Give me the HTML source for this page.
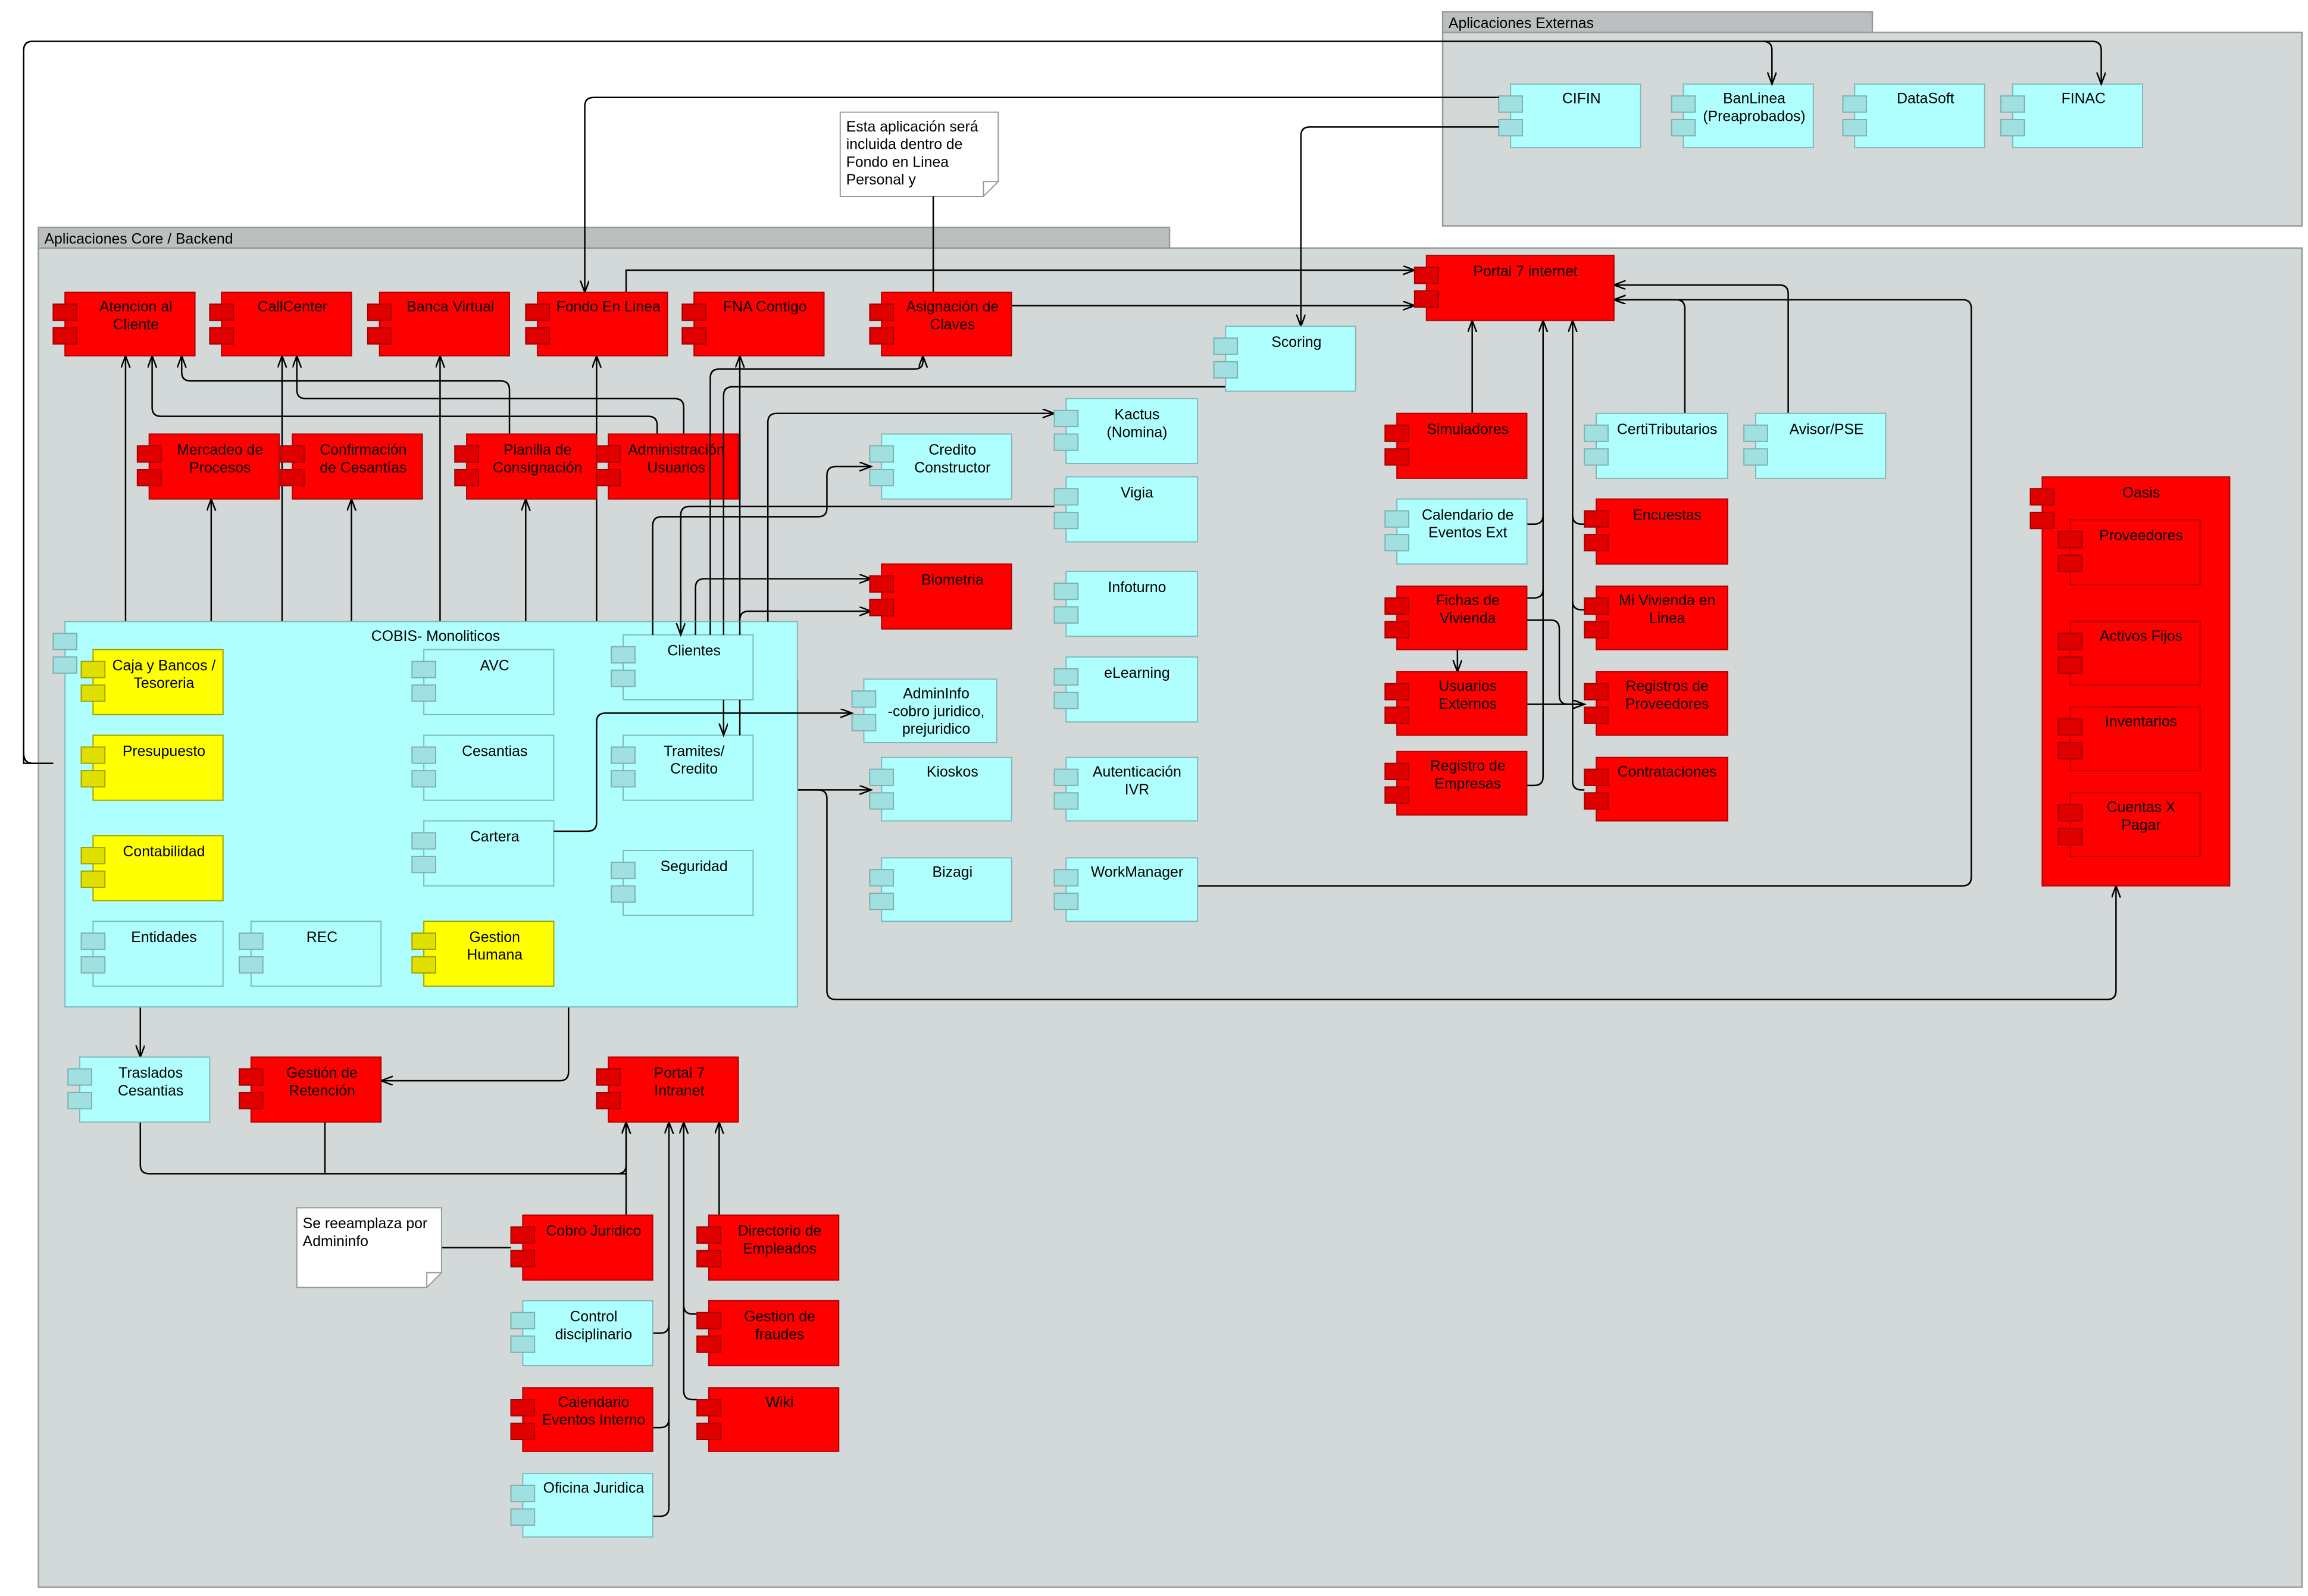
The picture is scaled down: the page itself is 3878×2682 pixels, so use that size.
<!DOCTYPE html>
<html><head><meta charset="utf-8"><style>
html,body{margin:0;padding:0;background:#fff}
svg{display:block}
text{font-family:"Liberation Sans Narrow","Liberation Sans",sans-serif;font-size:10px;fill:#000;text-anchor:middle}
.r{fill:#f00;stroke:#b00000;stroke-width:.8}
.rp{fill:#e00000;stroke:#a00000;stroke-width:.8}
.c{fill:#b0ffff;stroke:#80b8b8;stroke-width:.8}
.cp{fill:#a0e0e0;stroke:#7fb0b0;stroke-width:.8}
.y{fill:#ff0;stroke:#a0a000;stroke-width:.8}
.yp{fill:#e0e000;stroke:#a0a000;stroke-width:.8}
.fr{fill:#d3d8d9;stroke:#999;stroke-width:1}
.tab{fill:#bcbfc0;stroke:#999;stroke-width:1}
.l{fill:none;stroke:#000;stroke-width:1}
.lt{fill:none;stroke:#000;stroke-width:1;marker-end:url(#a)}
.note{fill:#fff;stroke:#999;stroke-width:.8}
.lt2{text-anchor:start}
</style></head><body>
<svg width="3878" height="2682" viewBox="0 0 1563 1081" xmlns="http://www.w3.org/2000/svg">
<defs><marker id="a" markerWidth="10" markerHeight="10" refX="8" refY="3" orient="auto" markerUnits="userSpaceOnUse"><path d="M0,0 L8,3 L0,6" fill="none" stroke="#000" stroke-width="1"/></marker></defs>

<rect class="tab" x="977" y="8" width="291" height="14"/>
<rect class="fr" x="977" y="22" width="582" height="131"/>
<text class="lt2" x="981" y="19">Aplicaciones Externas</text>
<rect class="tab" x="26" y="154" width="766" height="14"/>
<rect class="fr" x="26" y="168" width="1533" height="907"/>
<text class="lt2" x="30" y="165">Aplicaciones Core / Backend</text>

<g><rect class="c" x="1023" y="57" width="88" height="43"/><rect class="cp" x="1015" y="65" width="16" height="11"/><rect class="cp" x="1015" y="81" width="16" height="11"/><text x="1071" y="70">CIFIN</text></g>
<g><rect class="c" x="1140" y="57" width="88" height="43"/><rect class="cp" x="1132" y="65" width="16" height="11"/><rect class="cp" x="1132" y="81" width="16" height="11"/><text x="1188" y="70">BanLinea</text><text x="1188" y="82">(Preaprobados)</text></g>
<g><rect class="c" x="1256" y="57" width="88" height="43"/><rect class="cp" x="1248" y="65" width="16" height="11"/><rect class="cp" x="1248" y="81" width="16" height="11"/><text x="1304" y="70">DataSoft</text></g>
<g><rect class="c" x="1363" y="57" width="88" height="43"/><rect class="cp" x="1355" y="65" width="16" height="11"/><rect class="cp" x="1355" y="81" width="16" height="11"/><text x="1411" y="70">FINAC</text></g>

<path class="note" d="M569,76 H676 V123 L666,133 H569 Z"/>
<path class="l" d="M666,133 V123 H676" style="stroke:#999;stroke-width:.8"/>
<text class="lt2" x="573" y="89">Esta aplicación será</text>
<text class="lt2" x="573" y="101">incluida dentro de</text>
<text class="lt2" x="573" y="113">Fondo en Linea</text>
<text class="lt2" x="573" y="125">Personal y</text>
<path class="l" d="M632,133 V198"/>

<path class="l" d="M36,517 H22 Q16,517 16,510 V34 Q16,28 22,28 H1417 Q1423,28 1423,34"/>
<path class="lt" d="M1423,34 V57"/>
<path class="lt" d="M1194,28 Q1200,28 1200,34 V57"/>
<path class="lt" d="M1015,66 H402 Q396,66 396,72 V198"/>
<path class="lt" d="M1015,86 H887 Q881,86 881,92 V221"/>
<path class="lt" d="M424,198 V183 H958"/>
<path class="lt" d="M685,207 H958"/>
<path class="lt" d="M85,421 V241"/>
<path class="lt" d="M143,421 V338"/>
<path class="lt" d="M191,421 V241"/>
<path class="lt" d="M238,421 V338"/>
<path class="lt" d="M298,421 V241"/>
<path class="lt" d="M356,421 V338"/>
<path class="lt" d="M404,421 V241"/>
<path class="lt" d="M345,294 V264 Q345,258 339,258 H129 Q123,258 123,252 V241"/>
<path class="lt" d="M463,294 V276 Q463,270 457,270 H207 Q201,270 201,264 V241"/>
<path class="lt" d="M445,294 V288 Q445,282 439,282 H109 Q103,282 103,276 V241"/>
<path class="lt" d="M714,343 H467 Q461,343 461,349 V430"/>
<path class="lt" d="M442,430 V356 Q442,350 448,350 H554 Q560,350 560,344 V322 Q560,316 566,316 H590"/>
<path class="lt" d="M520,421 V286 Q520,280 526,280 H714"/>
<path class="lt" d="M471,430 V398 Q471,392 477,392 H590"/>
<path class="lt" d="M501,498 V241"/>
<path class="lt" d="M501,420 Q501,414 507,414 H590"/>
<path class="lt" d="M481,430 V256 Q481,250 487,250 H619 Q625,250 625,245 L625,241"/>
<path class="lt" d="M830,262 H496 Q490,262 490,268 V498"/>
<path class="lt" d="M510,455 H534 Q540,455 540,461 V535 H590"/>
<path class="lt" d="M540,535 H554 Q560,535 560,541 V671 Q560,677 566,677 H1427 Q1433,677 1433,671 V600"/>
<path class="lt" d="M414,468 H391 Q385,468 385,474 V726 Q385,732 379,732 H258"/>
<path class="lt" d="M95,682 V716"/>
<path class="l" d="M95,760 V789 Q95,795 101,795 H424"/>
<path class="l" d="M220,760 V795"/>
<path class="lt" d="M418,795 Q424,795 424,789 V760"/>
<path class="lt" d="M424,823 V760"/>
<path class="lt" d="M487,823 V760"/>
<path class="l" d="M442,903 H447 Q453,903 453,897"/>
<path class="l" d="M442,967 H447 Q453,967 453,961"/>
<path class="l" d="M442,1027 H447 Q453,1027 453,1021"/>
<path class="lt" d="M453,1021 V760"/>
<path class="l" d="M472,890 H469 Q463,890 463,884"/>
<path class="l" d="M472,948 H469 Q463,948 463,942"/>
<path class="lt" d="M463,942 V760"/>
<path class="l" d="M299,845 H346"/>
<path class="lt" d="M997,280 V217"/>
<path class="l" d="M1034,405 H1039 Q1045,405 1045,399"/>
<path class="l" d="M1034,355 H1039 Q1045,355 1045,349"/>
<path class="l" d="M1034,532 H1039 Q1045,532 1045,526"/>
<path class="lt" d="M1045,526 V217"/>
<path class="l" d="M1073,355 H1071 Q1065,355 1065,349"/>
<path class="l" d="M1073,413 H1071 Q1065,413 1065,407"/>
<path class="l" d="M1073,535 H1071 Q1065,535 1065,529"/>
<path class="lt" d="M1065,529 V217"/>
<path class="lt" d="M1141,280 V209 Q1141,203 1135,203 H1093"/>
<path class="lt" d="M1211,280 V199 Q1211,193 1205,193 H1093"/>
<path class="lt" d="M811,600 H1329 Q1335,600 1335,594 V209 Q1335,203 1329,203 H1093"/>
<path class="lt" d="M987,440 V455"/>
<path class="lt" d="M1034,477 H1073"/>
<path class="lt" d="M1034,420 H1050 Q1056,420 1056,426 V471 Q1056,477 1062,477 H1073"/>

<g><rect class="r" x="44" y="198" width="88" height="43"/><rect class="rp" x="36" y="206" width="16" height="11"/><rect class="rp" x="36" y="222" width="16" height="11"/><text x="92" y="211">Atencion al</text><text x="92" y="223">Cliente</text></g>
<g><rect class="r" x="150" y="198" width="88" height="43"/><rect class="rp" x="142" y="206" width="16" height="11"/><rect class="rp" x="142" y="222" width="16" height="11"/><text x="198" y="211">CallCenter</text></g>
<g><rect class="r" x="257" y="198" width="88" height="43"/><rect class="rp" x="249" y="206" width="16" height="11"/><rect class="rp" x="249" y="222" width="16" height="11"/><text x="305" y="211">Banca Virtual</text></g>
<g><rect class="r" x="364" y="198" width="88" height="43"/><rect class="rp" x="356" y="206" width="16" height="11"/><rect class="rp" x="356" y="222" width="16" height="11"/><text x="412" y="211">Fondo En Linea</text></g>
<g><rect class="r" x="470" y="198" width="88" height="43"/><rect class="rp" x="462" y="206" width="16" height="11"/><rect class="rp" x="462" y="222" width="16" height="11"/><text x="518" y="211">FNA Contigo</text></g>
<g><rect class="r" x="597" y="198" width="88" height="43"/><rect class="rp" x="589" y="206" width="16" height="11"/><rect class="rp" x="589" y="222" width="16" height="11"/><text x="645" y="211">Asignación de</text><text x="645" y="223">Claves</text></g>
<g><rect class="r" x="966" y="173" width="127" height="44"/><rect class="rp" x="958" y="181" width="16" height="11"/><rect class="rp" x="958" y="197" width="16" height="11"/><text x="1033" y="187">Portal 7 internet</text></g>
<g><rect class="c" x="830" y="221" width="88" height="44"/><rect class="cp" x="822" y="229" width="16" height="11"/><rect class="cp" x="822" y="245" width="16" height="11"/><text x="878" y="235">Scoring</text></g>

<g><rect class="r" x="101" y="294" width="88" height="44"/><rect class="rp" x="93" y="302" width="16" height="11"/><rect class="rp" x="93" y="318" width="16" height="11"/><text x="149" y="308">Mercadeo de</text><text x="149" y="320">Procesos</text></g>
<g><rect class="r" x="198" y="294" width="88" height="44"/><rect class="rp" x="190" y="302" width="16" height="11"/><rect class="rp" x="190" y="318" width="16" height="11"/><text x="246" y="308">Confirmación</text><text x="246" y="320">de Cesantías</text></g>
<g><rect class="r" x="316" y="294" width="88" height="44"/><rect class="rp" x="308" y="302" width="16" height="11"/><rect class="rp" x="308" y="318" width="16" height="11"/><text x="364" y="308">Planilla de</text><text x="364" y="320">Consignación</text></g>
<g><rect class="r" x="412" y="294" width="88" height="44"/><rect class="rp" x="404" y="302" width="16" height="11"/><rect class="rp" x="404" y="318" width="16" height="11"/><text x="458" y="308">Administración</text><text x="458" y="320">Usuarios</text></g>
<path class="l" d="M481,294 V338 M490,294 V338 M501,294 V338"/>
<g><rect class="c" x="597" y="294" width="88" height="44"/><rect class="cp" x="589" y="302" width="16" height="11"/><rect class="cp" x="589" y="318" width="16" height="11"/><text x="645" y="308">Credito</text><text x="645" y="320">Constructor</text></g>
<g><rect class="c" x="722" y="270" width="89" height="44"/><rect class="cp" x="714" y="278" width="16" height="11"/><rect class="cp" x="714" y="294" width="16" height="11"/><text x="770" y="284">Kactus</text><text x="770" y="296">(Nomina)</text></g>
<g><rect class="c" x="722" y="323" width="89" height="44"/><rect class="cp" x="714" y="331" width="16" height="11"/><rect class="cp" x="714" y="347" width="16" height="11"/><text x="770" y="337">Vigia</text></g>
<g><rect class="r" x="597" y="382" width="88" height="44"/><rect class="rp" x="589" y="390" width="16" height="11"/><rect class="rp" x="589" y="406" width="16" height="11"/><text x="645" y="396">Biometria</text></g>
<g><rect class="c" x="722" y="387" width="89" height="44"/><rect class="cp" x="714" y="395" width="16" height="11"/><rect class="cp" x="714" y="411" width="16" height="11"/><text x="770" y="401">Infoturno</text></g>
<g><rect class="c" x="722" y="445" width="89" height="44"/><rect class="cp" x="714" y="453" width="16" height="11"/><rect class="cp" x="714" y="469" width="16" height="11"/><text x="770" y="459">eLearning</text></g>
<g><rect class="c" x="585" y="460" width="90" height="43"/><rect class="cp" x="577" y="468" width="16" height="11"/><rect class="cp" x="577" y="484" width="16" height="11"/><text x="634" y="473">AdminInfo</text><text x="634" y="485">-cobro juridico,</text><text x="634" y="497">prejuridico</text></g>
<g><rect class="c" x="597" y="513" width="88" height="43"/><rect class="cp" x="589" y="521" width="16" height="11"/><rect class="cp" x="589" y="537" width="16" height="11"/><text x="645" y="526">Kioskos</text></g>
<g><rect class="c" x="722" y="513" width="89" height="43"/><rect class="cp" x="714" y="521" width="16" height="11"/><rect class="cp" x="714" y="537" width="16" height="11"/><text x="770" y="526">Autenticación</text><text x="770" y="538">IVR</text></g>
<g><rect class="c" x="597" y="581" width="88" height="43"/><rect class="cp" x="589" y="589" width="16" height="11"/><rect class="cp" x="589" y="605" width="16" height="11"/><text x="645" y="594">Bizagi</text></g>
<g><rect class="c" x="722" y="581" width="89" height="43"/><rect class="cp" x="714" y="589" width="16" height="11"/><rect class="cp" x="714" y="605" width="16" height="11"/><text x="770" y="594">WorkManager</text></g>

<g><rect class="r" x="946" y="280" width="88" height="44"/><rect class="rp" x="938" y="288" width="16" height="11"/><rect class="rp" x="938" y="304" width="16" height="11"/><text x="994" y="294">Simuladores</text></g>
<g><rect class="c" x="1081" y="280" width="89" height="44"/><rect class="cp" x="1073" y="288" width="16" height="11"/><rect class="cp" x="1073" y="304" width="16" height="11"/><text x="1129" y="294">CertiTributarios</text></g>
<g><rect class="c" x="1189" y="280" width="88" height="44"/><rect class="cp" x="1181" y="288" width="16" height="11"/><rect class="cp" x="1181" y="304" width="16" height="11"/><text x="1237" y="294">Avisor/PSE</text></g>
<g><rect class="c" x="946" y="338" width="88" height="44"/><rect class="cp" x="938" y="346" width="16" height="11"/><rect class="cp" x="938" y="362" width="16" height="11"/><text x="994" y="352">Calendario de</text><text x="994" y="364">Eventos Ext</text></g>
<g><rect class="r" x="1081" y="338" width="89" height="44"/><rect class="rp" x="1073" y="346" width="16" height="11"/><rect class="rp" x="1073" y="362" width="16" height="11"/><text x="1129" y="352">Encuestas</text></g>
<g><rect class="r" x="946" y="397" width="88" height="43"/><rect class="rp" x="938" y="405" width="16" height="11"/><rect class="rp" x="938" y="421" width="16" height="11"/><text x="994" y="410">Fichas de</text><text x="994" y="422">Vivienda</text></g>
<g><rect class="r" x="1081" y="397" width="89" height="43"/><rect class="rp" x="1073" y="405" width="16" height="11"/><rect class="rp" x="1073" y="421" width="16" height="11"/><text x="1129" y="410">Mi Vivienda en</text><text x="1129" y="422">Linea</text></g>
<g><rect class="r" x="946" y="455" width="88" height="43"/><rect class="rp" x="938" y="463" width="16" height="11"/><rect class="rp" x="938" y="479" width="16" height="11"/><text x="994" y="468">Usuarios</text><text x="994" y="480">Externos</text></g>
<g><rect class="r" x="1081" y="455" width="89" height="43"/><rect class="rp" x="1073" y="463" width="16" height="11"/><rect class="rp" x="1073" y="479" width="16" height="11"/><text x="1129" y="468">Registros de</text><text x="1129" y="480">Proveedores</text></g>
<g><rect class="r" x="946" y="509" width="88" height="43"/><rect class="rp" x="938" y="517" width="16" height="11"/><rect class="rp" x="938" y="533" width="16" height="11"/><text x="994" y="522">Registro de</text><text x="994" y="534">Empresas</text></g>
<g><rect class="r" x="1081" y="513" width="89" height="43"/><rect class="rp" x="1073" y="521" width="16" height="11"/><rect class="rp" x="1073" y="537" width="16" height="11"/><text x="1129" y="526">Contrataciones</text></g>

<rect class="r" x="1383" y="323" width="127" height="277"/><rect class="rp" x="1375" y="331" width="16" height="11"/><rect class="rp" x="1375" y="347" width="16" height="11"/><text x="1450" y="337">Oasis</text>
<g><rect class="r" x="1402" y="352" width="88" height="44"/><rect class="rp" x="1394" y="360" width="16" height="11"/><rect class="rp" x="1394" y="376" width="16" height="11"/><text x="1450" y="366">Proveedores</text></g>
<g><rect class="r" x="1402" y="421" width="88" height="43"/><rect class="rp" x="1394" y="429" width="16" height="11"/><rect class="rp" x="1394" y="445" width="16" height="11"/><text x="1450" y="434">Activos Fijos</text></g>
<g><rect class="r" x="1402" y="479" width="88" height="43"/><rect class="rp" x="1394" y="487" width="16" height="11"/><rect class="rp" x="1394" y="503" width="16" height="11"/><text x="1450" y="492">Inventarios</text></g>
<g><rect class="r" x="1402" y="537" width="88" height="43"/><rect class="rp" x="1394" y="545" width="16" height="11"/><rect class="rp" x="1394" y="561" width="16" height="11"/><text x="1450" y="550">Cuentas X</text><text x="1450" y="562">Pagar</text></g>

<rect class="c" x="44" y="421" width="496" height="261"/><rect class="cp" x="36" y="429" width="16" height="11"/><rect class="cp" x="36" y="445" width="16" height="11"/><text x="295" y="434">COBIS- Monoliticos</text>
<g><rect class="y" x="63" y="440" width="88" height="44"/><rect class="yp" x="55" y="448" width="16" height="11"/><rect class="yp" x="55" y="464" width="16" height="11"/><text x="111" y="454">Caja y Bancos /</text><text x="111" y="466">Tesoreria</text></g>
<g><rect class="y" x="63" y="498" width="88" height="44"/><rect class="yp" x="55" y="506" width="16" height="11"/><rect class="yp" x="55" y="522" width="16" height="11"/><text x="111" y="512">Presupuesto</text></g>
<g><rect class="y" x="63" y="566" width="88" height="44"/><rect class="yp" x="55" y="574" width="16" height="11"/><rect class="yp" x="55" y="590" width="16" height="11"/><text x="111" y="580">Contabilidad</text></g>
<g><rect class="c" x="63" y="624" width="88" height="44"/><rect class="cp" x="55" y="632" width="16" height="11"/><rect class="cp" x="55" y="648" width="16" height="11"/><text x="111" y="638">Entidades</text></g>
<g><rect class="c" x="170" y="624" width="88" height="44"/><rect class="cp" x="162" y="632" width="16" height="11"/><rect class="cp" x="162" y="648" width="16" height="11"/><text x="218" y="638">REC</text></g>
<g><rect class="c" x="287" y="440" width="88" height="44"/><rect class="cp" x="279" y="448" width="16" height="11"/><rect class="cp" x="279" y="464" width="16" height="11"/><text x="335" y="454">AVC</text></g>
<g><rect class="c" x="287" y="498" width="88" height="44"/><rect class="cp" x="279" y="506" width="16" height="11"/><rect class="cp" x="279" y="522" width="16" height="11"/><text x="335" y="512">Cesantias</text></g>
<g><rect class="c" x="287" y="556" width="88" height="44"/><rect class="cp" x="279" y="564" width="16" height="11"/><rect class="cp" x="279" y="580" width="16" height="11"/><text x="335" y="570">Cartera</text></g>
<g><rect class="y" x="287" y="624" width="88" height="44"/><rect class="yp" x="279" y="632" width="16" height="11"/><rect class="yp" x="279" y="648" width="16" height="11"/><text x="335" y="638">Gestion</text><text x="335" y="650">Humana</text></g>
<g><rect class="c" x="422" y="430" width="88" height="44"/><rect class="cp" x="414" y="438" width="16" height="11"/><rect class="cp" x="414" y="454" width="16" height="11"/><text x="470" y="444">Clientes</text></g>
<g><rect class="c" x="422" y="498" width="88" height="44"/><rect class="cp" x="414" y="506" width="16" height="11"/><rect class="cp" x="414" y="522" width="16" height="11"/><text x="470" y="512">Tramites/</text><text x="470" y="524">Credito</text></g>
<g><rect class="c" x="422" y="576" width="88" height="44"/><rect class="cp" x="414" y="584" width="16" height="11"/><rect class="cp" x="414" y="600" width="16" height="11"/><text x="470" y="590">Seguridad</text></g>
<path class="lt" d="M461,400 V430"/>
<path class="l" d="M442,421 V430 M471,421 V430 M481,421 V430 M520,415 V421"/>
<path class="lt" d="M490,474 V498"/>
<path class="l" d="M501,474 V498 M490,421 V430 M501,421 V430"/>
<path class="lt" d="M375,563 H398 Q404,563 404,557 V489 Q404,483 410,483 H577"/>
<path class="l" d="M16,509 V517 H36"/>

<g><rect class="c" x="54" y="716" width="88" height="44"/><rect class="cp" x="46" y="724" width="16" height="11"/><rect class="cp" x="46" y="740" width="16" height="11"/><text x="102" y="730">Traslados</text><text x="102" y="742">Cesantias</text></g>
<g><rect class="r" x="170" y="716" width="88" height="44"/><rect class="rp" x="162" y="724" width="16" height="11"/><rect class="rp" x="162" y="740" width="16" height="11"/><text x="218" y="730">Gestión de</text><text x="218" y="742">Retención</text></g>
<g><rect class="r" x="412" y="716" width="88" height="44"/><rect class="rp" x="404" y="724" width="16" height="11"/><rect class="rp" x="404" y="740" width="16" height="11"/><text x="460" y="730">Portal 7</text><text x="460" y="742">Intranet</text></g>
<path class="note" d="M201,818 H299 V862 L289,872 H201 Z"/>
<path class="l" d="M289,872 V862 H299" style="stroke:#999;stroke-width:.8"/>
<text class="lt2" x="205" y="832">Se reeamplaza por</text>
<text class="lt2" x="205" y="844">Admininfo</text>
<g><rect class="r" x="354" y="823" width="88" height="44"/><rect class="rp" x="346" y="831" width="16" height="11"/><rect class="rp" x="346" y="847" width="16" height="11"/><text x="402" y="837">Cobro Juridico</text></g>
<g><rect class="r" x="480" y="823" width="88" height="44"/><rect class="rp" x="472" y="831" width="16" height="11"/><rect class="rp" x="472" y="847" width="16" height="11"/><text x="528" y="837">Directorio de</text><text x="528" y="849">Empleados</text></g>
<g><rect class="c" x="354" y="881" width="88" height="44"/><rect class="cp" x="346" y="889" width="16" height="11"/><rect class="cp" x="346" y="905" width="16" height="11"/><text x="402" y="895">Control</text><text x="402" y="907">disciplinario</text></g>
<g><rect class="r" x="480" y="881" width="88" height="44"/><rect class="rp" x="472" y="889" width="16" height="11"/><rect class="rp" x="472" y="905" width="16" height="11"/><text x="528" y="895">Gestion de</text><text x="528" y="907">fraudes</text></g>
<g><rect class="r" x="354" y="940" width="88" height="43"/><rect class="rp" x="346" y="948" width="16" height="11"/><rect class="rp" x="346" y="964" width="16" height="11"/><text x="402" y="953">Calendario</text><text x="402" y="965">Eventos Interno</text></g>
<g><rect class="r" x="480" y="940" width="88" height="43"/><rect class="rp" x="472" y="948" width="16" height="11"/><rect class="rp" x="472" y="964" width="16" height="11"/><text x="528" y="953">Wiki</text></g>
<g><rect class="c" x="354" y="998" width="88" height="43"/><rect class="cp" x="346" y="1006" width="16" height="11"/><rect class="cp" x="346" y="1022" width="16" height="11"/><text x="402" y="1011">Oficina Juridica</text></g>
</svg>
</body></html>
